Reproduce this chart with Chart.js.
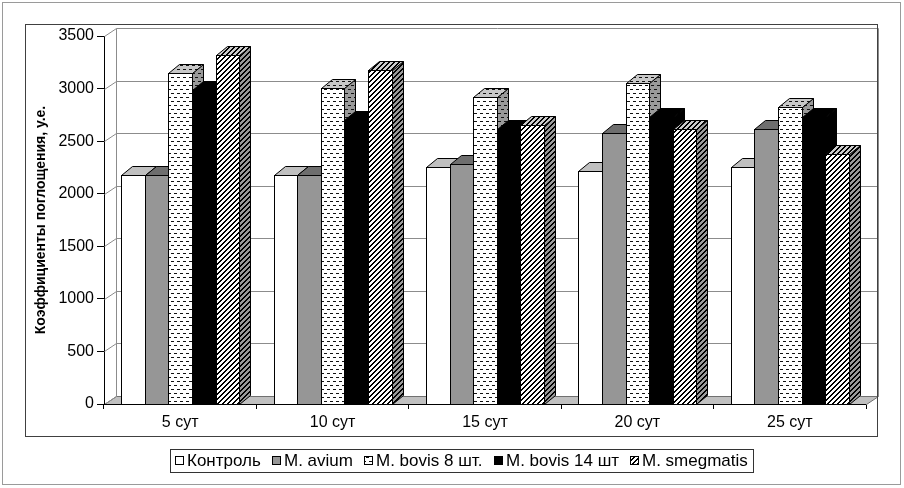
<!DOCTYPE html>
<html lang="ru">
<head>
<meta charset="UTF-8">
<title>Коэффициенты поглощения</title>
<script src="https://cdn.jsdelivr.net/npm/chart.js"></script>
<style>
  html, body { margin: 0; padding: 0; background: #fff; }
  #wrap { width: 904px; height: 488px; }
</style>
</head>
<body>
<div id="wrap"><canvas id="chart" width="904" height="488"></canvas></div>
<script>
const categories = ['5 сут', '10 сут', '15 сут', '20 сут', '25 сут'];
const seriesNames = ['Контроль', 'M. avium', 'M. bovis 8 шт.', 'M. bovis 14 шт', 'M. smegmatis'];
const control   = [2180, 2180, 2250, 2220, 2250];
const avium     = [2180, 2180, 2280, 2580, 2620];
const bovis8    = [3150, 3010, 2920, 3050, 2820];
const bovis14   = [2990, 2700, 2620, 2730, 2730];
const smegmatis = [3320, 3180, 2650, 2620, 2380];
const yTicks = [0, 500, 1000, 1500, 2000, 2500, 3000, 3500];

const FONT = '"Liberation Sans", Arial, sans-serif';
const DX = 11, DY = 9;   // depth of a bar
const WX = 12, WY = 8;   // depth of the floor / back wall

// small fill patterns, like the old Excel hatch fills
function pattern(kind, bg) {
  const c = document.createElement('canvas');
  const p = c.getContext('2d');
  if (kind === 'dots') {
    c.width = 6; c.height = 8;
    p.fillStyle = bg; p.fillRect(0, 0, 6, 8);
    p.fillStyle = '#111';
    p.fillRect(0, 1, 3, 1);
    p.fillRect(3, 5, 3, 1);
  } else {
    const n = 5;
    c.width = n; c.height = n;
    p.fillStyle = bg; p.fillRect(0, 0, n, n);
    p.fillStyle = '#000';
    for (let x = 0; x < n; x++)
      for (let y = 0; y < n; y++)
        if ((x + y) % n < 2) p.fillRect(x, y, 1, 1);
  }
  return document.createElement('canvas').getContext('2d').createPattern(c, 'repeat');
}

const faces = [
  { front: '#ffffff', top: '#c0c0c0', side: '#a6a6a6' },
  { front: '#969696', top: '#6e6e6e', side: '#5c5c5c' },
  { front: pattern('dots', '#ffffff'), top: pattern('dots', '#c8c8c8'), side: pattern('dots', '#9a9a9a') },
  { front: '#000000', top: '#000000', side: '#000000' },
  { front: pattern('stripes', '#ffffff'), top: pattern('stripes', '#cccccc'), side: pattern('stripes', '#9a9a9a') }
];

function drawBar(ctx, bar, f) {
  const l = Math.round(bar.x - bar.width / 2), r = Math.round(bar.x + bar.width / 2);
  const t = Math.round(bar.y), b = Math.round(bar.base);
  ctx.lineWidth = 1;
  ctx.strokeStyle = '#000';
  // side
  ctx.beginPath();
  ctx.moveTo(r + 0.5, t + 0.5); ctx.lineTo(r + DX + 0.5, t - DY + 0.5);
  ctx.lineTo(r + DX + 0.5, b - DY + 0.5); ctx.lineTo(r + 0.5, b + 0.5); ctx.closePath();
  ctx.fillStyle = f.side; ctx.fill(); ctx.stroke();
  // top
  ctx.beginPath();
  ctx.moveTo(l + 0.5, t + 0.5); ctx.lineTo(l + DX + 0.5, t - DY + 0.5);
  ctx.lineTo(r + DX + 0.5, t - DY + 0.5); ctx.lineTo(r + 0.5, t + 0.5); ctx.closePath();
  ctx.fillStyle = f.top; ctx.fill(); ctx.stroke();
  // front
  ctx.fillStyle = f.front;
  ctx.fillRect(l, t, r - l, b - t);
  ctx.strokeRect(l + 0.5, t + 0.5, r - l, b - t);
}

const box3d = {
  id: 'box3d',
  beforeDatasetsDraw(chart) {
    const { ctx, chartArea: a, scales: { y } } = chart;
    ctx.save();
    ctx.lineWidth = 1;
    // floor
    ctx.beginPath();
    ctx.moveTo(a.left + 0.5, a.bottom + 0.5); ctx.lineTo(a.left + WX + 0.5, a.bottom - WY + 0.5);
    ctx.lineTo(a.right + WX + 0.5, a.bottom - WY + 0.5); ctx.lineTo(a.right + 0.5, a.bottom + 0.5);
    ctx.closePath();
    ctx.fillStyle = '#c0c0c0'; ctx.fill();
    ctx.strokeStyle = '#707070'; ctx.stroke();
    // back wall gridlines + slanted tick connectors
    ctx.strokeStyle = '#8c8c8c';
    yTicks.forEach(v => {
      const py = Math.round(y.getPixelForValue(v)) + 0.5;
      ctx.beginPath();
      ctx.moveTo(a.left + 0.5, py); ctx.lineTo(a.left + WX + 0.5, py - WY);
      if (v > 0) ctx.lineTo(a.right + WX + 0.5, py - WY);
      ctx.stroke();
    });
    // wall edges
    ctx.beginPath();
    ctx.moveTo(a.left + WX + 0.5, a.top - WY + 0.5); ctx.lineTo(a.left + WX + 0.5, a.bottom - WY + 0.5);
    ctx.moveTo(a.right + WX + 0.5, a.top - WY + 0.5); ctx.lineTo(a.right + WX + 0.5, a.bottom - WY + 0.5);
    ctx.stroke();
    // front axis line again over the floor edge
    ctx.strokeStyle = '#000';
    ctx.beginPath(); ctx.moveTo(a.left, a.bottom + 0.5); ctx.lineTo(a.right, a.bottom + 0.5); ctx.stroke();
    // bars, left to right so each front hides the previous side
    for (let i = 0; i < categories.length; i++) {
      for (let j = 0; j < chart.data.datasets.length; j++) {
        drawBar(ctx, chart.getDatasetMeta(j).data[i], faces[j]);
      }
    }
    ctx.restore();
    return false;
  },
  afterDraw(chart) {
    const ctx = chart.ctx;
    ctx.save();
    ctx.lineWidth = 1;
    // frames
    ctx.strokeStyle = '#9a9a9a';
    ctx.strokeRect(2.5, 2.5, 898, 482);
    ctx.strokeStyle = '#404040';
    ctx.strokeRect(25.5, 24.5, 852, 412);
    // legend
    ctx.font = '17px ' + FONT;
    const SW = 9, GAP = 3;
    const widths = seriesNames.map(n => ctx.measureText(n).width);
    const boxW = 583, bx = 170.5, by = 449.5;
    const used = widths.reduce((s, w) => s + SW + GAP + w, 0);
    const sep = (boxW - 10 - used) / (seriesNames.length - 1);
    ctx.fillStyle = '#fff'; ctx.fillRect(bx, by, boxW, 23);
    ctx.strokeStyle = '#333'; ctx.strokeRect(bx, by, boxW, 23);
    let px = bx + 4.5;
    ctx.textBaseline = 'middle';
    seriesNames.forEach((n, j) => {
      const sx = Math.round(px);
      ctx.fillStyle = faces[j].front;
      ctx.fillRect(sx, 456, SW, SW);
      ctx.strokeStyle = '#000';
      ctx.strokeRect(sx + 0.5, 456.5, SW - 1, SW - 1);
      ctx.fillStyle = '#000';
      ctx.fillText(n, sx + SW + GAP, 461.5);
      px += SW + GAP + widths[j] + sep;
    });
    ctx.restore();
  }
};

const seriesData = [control, avium, bovis8, bovis14, smegmatis];

new Chart(document.getElementById('chart'), {
  type: 'bar',
  data: {
    labels: categories,
    datasets: seriesNames.map((name, j) => ({
      label: name,
      data: seriesData[j],
      backgroundColor: faces[j].front,
      borderColor: '#000',
      borderWidth: 1,
      categoryPercentage: 0.774,
      barPercentage: 1.0
    }))
  },
  options: {
    responsive: false,
    animation: false,
    devicePixelRatio: 1,
    layout: { padding: { left: 0, right: 38, top: 36, bottom: 0 } },
    plugins: { legend: { display: false }, tooltip: { enabled: false } },
    scales: {
      x: {
        grid: { drawOnChartArea: false, drawTicks: true, tickLength: 5, color: '#000', offset: true },
        border: { color: '#000' },
        ticks: { font: { family: FONT, size: 16 }, color: '#000', padding: 4, maxRotation: 0 },
        afterFit: s => { s.height = 84; }
      },
      y: {
        min: 0, max: 3500,
        grid: { drawOnChartArea: false, drawTicks: true, tickLength: 7, color: '#000' },
        border: { color: '#000' },
        ticks: {
          stepSize: 500, font: { family: FONT, size: 16 }, color: '#000', padding: 3,
          callback: v => String(v)
        },
        title: {
          display: true,
          text: 'Коэффициенты поглощения, у.е.',
          font: { family: FONT, size: 14, weight: 'bold' },
          color: '#000',
          padding: { top: 32.5, bottom: 0 }
        },
        afterFit: s => { s.width = 104; }
      }
    }
  },
  plugins: [box3d]
});
</script>
</body>
</html>
